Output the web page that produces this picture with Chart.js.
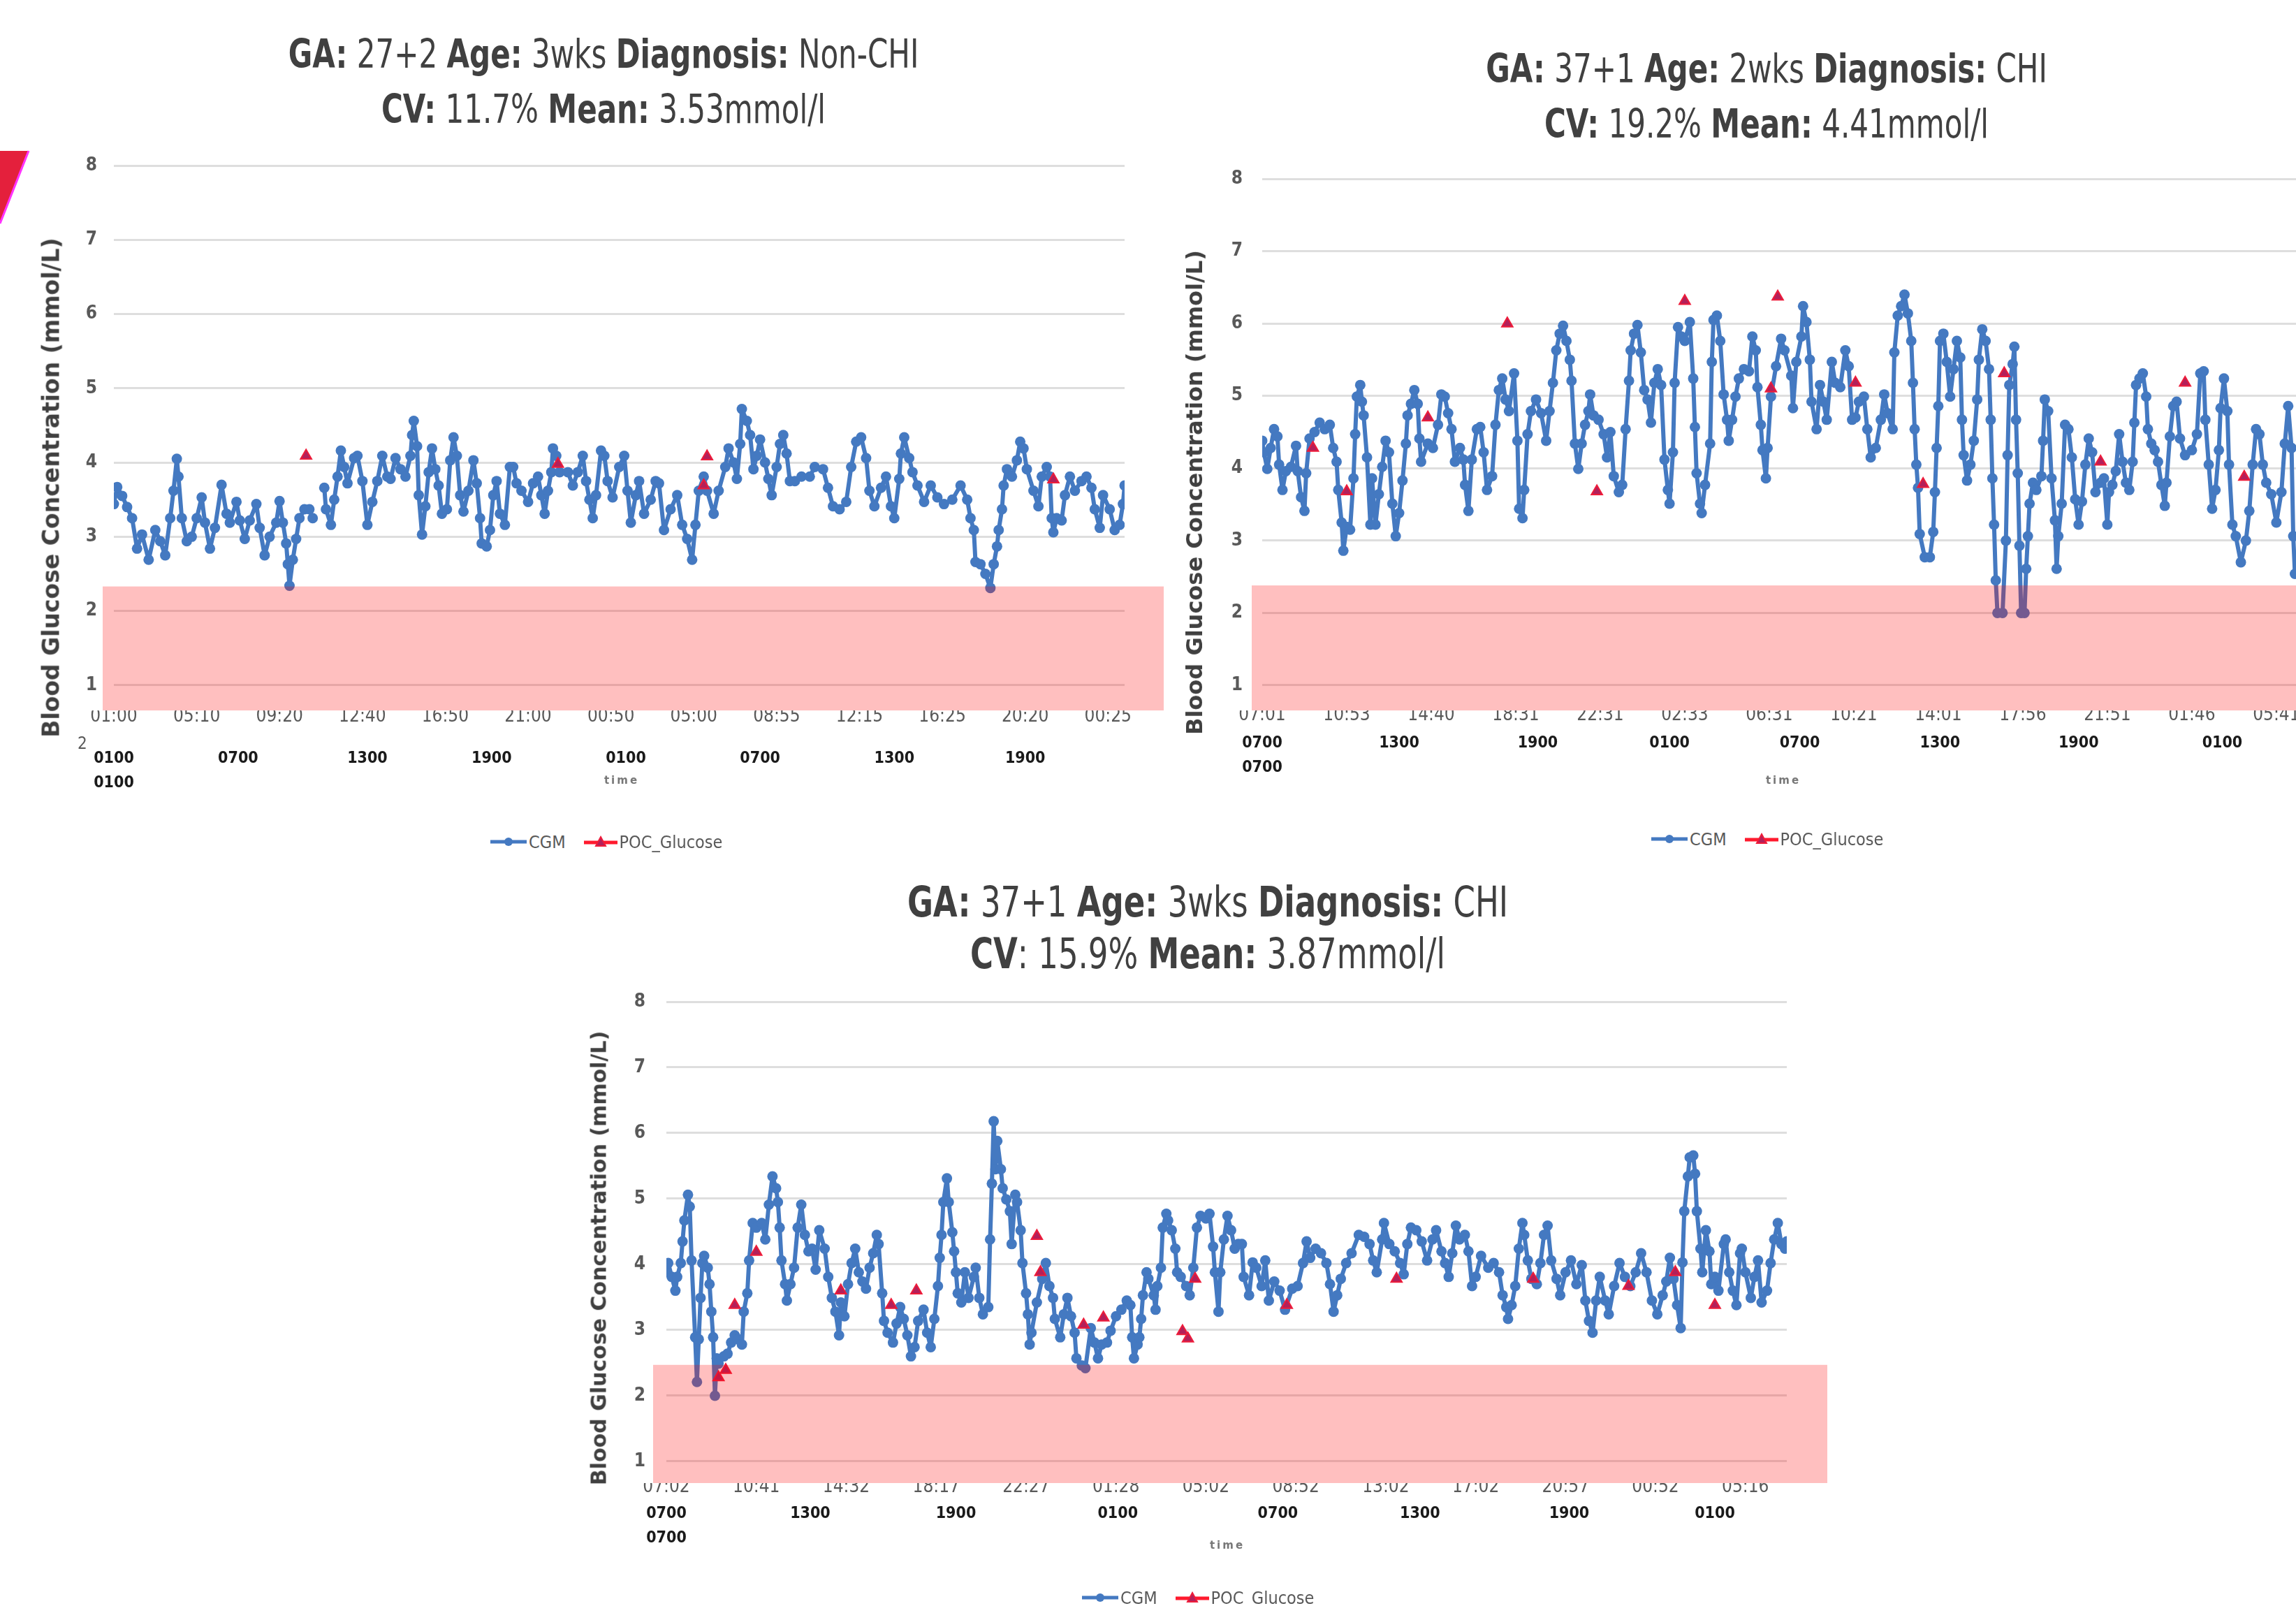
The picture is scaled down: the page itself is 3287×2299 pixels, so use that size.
<!DOCTYPE html>
<html>
<head>
<meta charset="utf-8">
<script src="https://cdn.jsdelivr.net/npm/chart.js@4.4.0/dist/chart.umd.min.js"></script>
<style>
html, body { margin: 0; padding: 0; background: #fff; }
body { position: relative; width: 3287px; height: 2299px; overflow: hidden; }
canvas { position: absolute; }
.t { position: absolute; width: 2000px; text-align: center; line-height: 1; color: #404040; white-space: nowrap;
     transform: scaleX(0.82);
     font-family: 'Liberation Sans Narrow', 'DejaVu Sans Condensed', 'Arial Narrow', sans-serif; }
.yt { position: absolute; transform: translate(-50%, -50%) rotate(-90deg); white-space: nowrap;
      font-family: 'DejaVu Sans', Verdana, sans-serif; font-weight: bold; color: #404040; }
.lg { position: absolute; height: 30px; display: flex; align-items: center; color: #595959;
      font: 25px 'Liberation Sans Narrow', 'DejaVu Sans Condensed', sans-serif; }
.lg span { margin-left: 3px; }
.lg svg.poc { margin-left: 26px; }
.tm { position: absolute; transform: translate(-50%, -50%); font: bold 15px 'DejaVu Sans', sans-serif;
      letter-spacing: 3px; color: #777; }
.frag { position: absolute; font: 24px 'Liberation Sans Narrow', 'DejaVu Sans Condensed', sans-serif; color: #595959; }
</style>
</head>
<body>

<svg style="position:absolute;left:0;top:210px" width="50" height="120">
  <polygon points="0,6 41,6 0,110" fill="#e4203c"/>
  <line x1="41" y1="6" x2="0" y2="110" stroke="#ff33ff" stroke-width="3"/>
</svg>

<!-- titles -->
<div class="t" style="left:-136px;top:49px;font-size:57px"><b>GA:</b> 27+2 <b>Age:</b> 3wks <b>Diagnosis:</b> Non-CHI</div>
<div class="t" style="left:-136px;top:128px;font-size:57px"><b>CV:</b> 11.7% <b>Mean:</b> 3.53mmol/l</div>
<div class="t" style="left:1529px;top:70px;font-size:57px"><b>GA:</b> 37+1 <b>Age:</b> 2wks <b>Diagnosis:</b> CHI</div>
<div class="t" style="left:1529px;top:149px;font-size:57px"><b>CV:</b> 19.2% <b>Mean:</b> 4.41mmol/l</div>
<div class="t" style="left:729px;top:1260px;font-size:61px"><b>GA:</b> 37+1 <b>Age:</b> 3wks <b>Diagnosis:</b> CHI</div>
<div class="t" style="left:729px;top:1334px;font-size:61px"><b>CV</b>: 15.9% <b>Mean:</b> 3.87mmol/l</div>

<canvas id="cL" width="1680" height="960" style="left:0;top:190px"></canvas>
<canvas id="cR" width="1680" height="960" style="left:1680px;top:190px"></canvas>
<canvas id="cB" width="1900" height="919" style="left:800px;top:1380px"></canvas>

<!-- y axis titles -->
<div class="yt" style="left:73px;top:698px;font-size:33px">Blood Glucose Concentration (mmol/L)</div>
<div class="yt" style="left:1710px;top:705px;font-size:32px">Blood Glucose Concentration (mmol/L)</div>
<div class="yt" style="left:857px;top:1801px;font-size:30px">Blood Glucose Concentration (mmol/L)</div>

<div class="frag" style="left:111px;top:1050px">2</div>
<div class="tm" style="left:890px;top:1117px">time</div>
<div class="tm" style="left:2553px;top:1117px">time</div>
<div class="tm" style="left:1757px;top:2212px">time</div>

<!-- legends -->
<div class="lg" style="left:702px;top:1190px">
  <svg width="52" height="20"><line x1="0" y1="10" x2="52" y2="10" stroke="#4479c1" stroke-width="5"/><circle cx="26" cy="10" r="6" fill="#4479c1"/></svg>
  <span>CGM</span>
  <svg class="poc" width="48" height="20"><line x1="0" y1="11" x2="48" y2="11" stroke="#ff1a2e" stroke-width="5"/><polygon points="24,3 31,16 17,16" fill="#b3205a" stroke="#ee1c3a" stroke-width="2"/></svg>
  <span>POC_Glucose</span>
</div>
<div class="lg" style="left:2364px;top:1186px">
  <svg width="52" height="20"><line x1="0" y1="10" x2="52" y2="10" stroke="#4479c1" stroke-width="5"/><circle cx="26" cy="10" r="6" fill="#4479c1"/></svg>
  <span>CGM</span>
  <svg class="poc" width="48" height="20"><line x1="0" y1="11" x2="48" y2="11" stroke="#ff1a2e" stroke-width="5"/><polygon points="24,3 31,16 17,16" fill="#b3205a" stroke="#ee1c3a" stroke-width="2"/></svg>
  <span>POC_Glucose</span>
</div>
<div class="lg" style="left:1549px;top:2272px">
  <svg width="52" height="20"><line x1="0" y1="10" x2="52" y2="10" stroke="#4479c1" stroke-width="5"/><circle cx="26" cy="10" r="6" fill="#4479c1"/></svg>
  <span>CGM</span>
  <svg class="poc" width="48" height="20"><line x1="0" y1="11" x2="48" y2="11" stroke="#ff1a2e" stroke-width="5"/><polygon points="24,3 31,16 17,16" fill="#b3205a" stroke="#ee1c3a" stroke-width="2"/></svg>
  <span>POC_Glucose</span>
</div>

<script>
// ---- data: [sample index, mmol/L] ----
const yTicks = [1, 2, 3, 4, 5, 6, 7, 8];
const LABEL_STEP = 50;

// top-left: GA 27+2, Non-CHI
const lTickLabels = ['01:00','05:10','09:20','12:40','16:50','21:00','00:50','05:00','08:55','12:15','16:25','20:20','00:25'];
const lHourIdx = [0, 75, 153, 228, 309, 390, 471, 550];
const lHourLabels = [['0100','0100'],'0700','1300','1900','0100','0700','1300','1900'];
const lBand = [0.66, 2.33];
const lCgm = [[0,3.44],[2,3.67],[5,3.55],[8,3.4],[11,3.25],[14,2.84],[17,3.03],[21,2.69],[25,3.09],[28,2.94],[31,2.75],[34,3.25],[36,3.62],[38,4.05],[39,3.81],[41,3.25],[44,2.94],[47,3.0],[50,3.25],[53,3.53],[55,3.19],[58,2.84],[61,3.12],[65,3.70],[68,3.31],[70,3.19],[74,3.47],[76,3.22],[79,2.97],[82,3.22],[86,3.44],[88,3.12],[91,2.75],[94,3.0],[98,3.19],[100,3.48],[102,3.19],[104,2.91],[105,2.63],[106,2.34],[108,2.69],[110,2.97],[112,3.25],[115,3.37],[118,3.37],[120,3.25],[123,null],
  [127,3.66],[128,3.37],[131,3.16],[133,3.5],[135,3.81],[137,4.16],[139,3.94],[141,3.72],[145,4.06],[147,4.09],[150,3.75],[153,3.16],[156,3.47],[159,3.75],[162,4.09],[165,3.81],[167,3.78],[170,4.06],[173,3.91],[176,3.81],[179,4.09],[180,4.37],[181,4.56],[183,4.22],[184,3.56],[186,3.03],[188,3.41],[190,3.87],[192,4.19],[194,3.91],[196,3.69],[198,3.31],[201,3.37],[203,4.03],[205,4.34],[207,4.09],[209,3.56],[211,3.34],[214,3.62],[217,4.03],[219,3.72],[221,3.25],[222,2.91],[225,2.87],[227,3.09],[229,3.56],[231,3.75],[233,3.31],[236,3.16],[239,3.94],[241,3.94],[243,3.72],[246,3.62],[250,3.47],[253,3.72],[256,3.81],[258,3.56],[260,3.31],[262,3.62],[264,3.87],[265,4.19],[267,4.09],[269,3.87],[274,3.87],[277,3.69],[280,3.87],[283,4.09],[285,3.75],[287,3.5],[289,3.25],[291,3.56],[294,4.16],[296,4.09],[298,3.75],[301,3.53],
  [305,3.94],[308,4.09],[310,3.62],[312,3.19],[315,3.56],[317,3.75],[320,3.31],[324,3.5],[327,3.75],[329,3.72],[332,3.09],[336,3.37],[340,3.56],[343,3.16],[346,2.97],[349,2.69],[351,3.16],[353,3.62],[356,3.81],[358,3.62],[362,3.31],[365,3.62],[369,3.94],[371,4.19],[374,4.0],[376,3.78],[378,4.25],[379,4.72],[382,4.56],[384,4.37],[386,3.91],[388,4.09],[390,4.31],[393,4.0],[395,3.78],[397,3.56],[400,3.94],[402,4.25],[404,4.37],[406,4.12],[408,3.75],[411,3.75],[415,3.81],[420,3.81],[423,3.94],[428,3.91],[431,3.66],[434,3.41],[438,3.37],[442,3.47],[445,3.94],[448,4.28],[451,4.34],[454,4.06],[456,3.62],[459,3.41],[463,3.66],[466,3.81],[469,3.41],[471,3.25],[474,3.78],[475,4.12],[477,4.34],[480,4.06],[482,3.87],[485,3.69],[489,3.47],[493,3.69],[497,3.53],[501,3.44],[506,3.5],[511,3.69],[515,3.5],[517,3.25],[519,3.09],[520,2.66],[523,2.63],[526,2.5],[529,2.31],[531,2.63],[533,2.87],[534,3.09],[536,3.37],[537,3.69],[539,3.91],[542,3.81],[545,4.03],[547,4.28],[549,4.19],[551,3.91],[555,3.62],[558,3.41],[560,3.81],[563,3.94],[565,3.81],[566,3.25],[567,3.06],[569,3.25],[572,3.22],[574,3.56],[577,3.81],[580,3.62],[584,3.75],[587,3.81],[590,3.66],[592,3.37],[595,3.12],[597,3.56],[601,3.37],[604,3.09],[607,3.16],[609,3.44],[610,3.69]];
const lPoc = [[116,4.09],[268,3.98],[356,3.69],[358,4.08],[567,3.77]];

// top-right: GA 37+1, 2wks, CHI
const rTickLabels = ['07:01','10:53','14:40','18:31','22:31','02:33','06:31','10:21','14:01','17:56','21:51','01:46','05:41'];
const rHourIdx = [0, 81, 163, 241, 318, 401, 483, 568];
const rHourLabels = [['0700','0700'],'1300','1900','0100','0700','1300','1900','0100'];
const rBand = [0.652, 2.38];
const rCgm = [[0,4.38],[1,4.22],[3,3.99],[5,4.28],[7,4.54],[9,4.44],[10,4.05],[12,3.70],[14,3.96],[17,4.02],[20,4.31],[21,3.96],[23,3.60],[25,3.41],[26,3.93],[28,4.41],[31,4.50],[34,4.63],[37,4.54],[40,4.60],[42,4.28],[44,4.09],[45,3.70],[47,3.25],[48,2.86],[50,3.19],[52,3.15],[54,3.86],[55,4.47],[56,4.99],[58,5.15],[59,4.92],[60,4.73],[62,4.15],[64,3.22],[65,3.86],[67,3.22],[69,3.64],[71,4.02],[73,4.38],[75,4.22],[77,3.51],[79,3.06],[81,3.38],[83,3.83],[85,4.34],[86,4.73],[88,4.89],[90,5.08],[92,4.89],[93,4.41],[94,4.09],[98,4.34],[101,4.28],[104,4.60],[106,5.02],[108,4.99],[110,4.76],[112,4.54],[114,4.09],[117,4.28],[119,4.12],[120,3.77],[122,3.41],[124,4.12],[127,4.54],[129,4.57],[131,4.22],[133,3.70],[136,3.89],[138,4.60],[140,5.08],[142,5.24],[144,4.95],[146,4.79],[149,5.31],[151,4.38],[152,3.44],[154,3.31],[155,3.70],[157,4.47],[159,4.79],[162,4.95],[165,4.76],[168,4.38],[170,4.79],[172,5.18],[174,5.63],[176,5.86],[178,5.97],[180,5.76],[182,5.50],[183,5.21],[185,4.34],[187,3.99],[189,4.34],[191,4.60],[193,4.79],[194,5.02],[196,4.73],[199,4.67],[202,4.47],[204,4.15],[206,4.50],[208,3.89],[211,3.67],[213,3.77],[215,4.54],[217,5.21],[218,5.63],[220,5.86],[222,5.98],[224,5.60],[226,5.08],[228,4.95],[230,4.63],[232,5.18],[234,5.37],[236,5.15],[238,4.12],[240,3.70],[241,3.51],[243,4.22],[244,5.18],[246,5.95],[248,5.82],[250,5.76],[253,6.02],[255,5.24],[256,4.57],[257,3.93],[259,3.51],[260,3.38],[262,3.77],[265,4.34],[266,5.47],[267,6.05],[269,6.11],[271,5.76],[273,5.02],[275,4.67],[276,4.38],[278,4.67],[280,4.99],[282,5.24],[285,5.37],[288,5.34],[290,5.82],[292,5.63],[293,5.12],[295,4.60],[296,4.25],[298,3.86],[299,4.28],[301,4.99],[304,5.41],[307,5.79],[309,5.63],
  [313,5.28],[314,4.83],[316,5.47],[319,5.82],[320,6.24],[322,6.02],[324,5.50],[325,4.92],[328,4.54],[330,5.15],[332,4.92],[334,4.67],[337,5.47],[339,5.18],[342,5.12],[345,5.63],[347,5.41],[349,4.67],[351,4.70],[353,4.92],[356,4.99],[358,4.54],[360,4.15],[363,4.28],[366,4.67],[368,5.02],[370,4.76],[373,4.54],[374,5.60],[376,6.11],[378,6.24],[380,6.40],[382,6.14],[384,5.76],[385,5.18],[386,4.54],[387,4.05],[388,3.73],[389,3.09],[392,2.77],[395,2.77],[397,3.12],[398,3.67],[399,4.28],[400,4.86],[401,5.76],[403,5.86],[405,5.47],[407,4.99],[409,5.37],[411,5.76],[413,5.53],[414,4.67],[415,4.18],[417,3.83],[419,4.05],[421,4.38],[423,4.95],[424,5.50],[426,5.92],[428,5.76],[430,5.37],[431,4.67],[432,3.86],[433,3.22],[434,2.45],[435,2.00],[438,2.00],[440,3.0],[441,4.18],[442,5.15],[444,5.44],[445,5.68],[446,4.67],[447,3.93],[448,2.93],[449,2.00],[451,2.00],[452,2.61],[453,3.06],[454,3.51],[456,3.80],[458,3.70],[461,3.89],[462,4.38],[463,4.95],[465,4.79],[467,3.86],[469,3.28],[470,2.61],[471,3.06],[473,3.51],[475,4.60],[477,4.54],[479,4.15],[481,3.57],[483,3.22],[485,3.54],[487,4.05],[489,4.41],[491,4.22],[493,3.67],[496,3.80],[498,3.86],[500,3.22],[501,3.67],[503,3.77],[505,3.96],[507,4.47],[509,4.09],[511,3.80],[513,3.70],[515,4.09],[516,4.63],[517,5.15],[519,5.24],[521,5.31],[523,4.99],[524,4.54],[526,4.34],[528,4.25],[530,4.09],[532,3.77],[534,3.48],[535,3.80],[537,4.44],[539,4.86],[541,4.92],[543,4.41],[546,4.18],[550,4.25],[553,4.47],[555,5.31],[557,5.34],[558,4.67],[560,4.05],[562,3.44],[564,3.70],[566,4.25],[567,4.83],[569,5.24],[571,4.79],[572,4.05],[574,3.22],[576,3.06],[579,2.70],[582,3.0],[584,3.41],[586,4.05],[588,4.54],[590,4.47],[592,4.05],[594,3.80],[597,3.64],[600,3.25],[603,3.67],[605,4.34],[607,4.86],[609,4.28],[610,3.06],[611,2.54]];
const rPoc = [[30,4.28],[50,3.68],[98,4.70],[145,6.0],[198,3.68],[250,6.31],[301,5.10],[305,6.37],[351,5.18],[391,3.78],[439,5.31],[496,4.09],[546,5.18],[581,3.88]];

// bottom: GA 37+1, 3wks, CHI
const bTickLabels = ['07:02','10:41','14:32','18:17','22:27','01:28','05:02','08:52','13:02','17:02','20:57','00:52','05:16'];
const bHourIdx = [0, 80, 161, 251, 340, 419, 502, 583];
const bHourLabels = [['0700','0700'],'1300','1900','0100','0700','1300','1900','0100'];
const bBand = [0.67, 2.47];
const bCgm = [[0,3.88],[1,4.02],[3,3.81],[5,3.60],[6,3.81],[8,4.02],[9,4.35],[10,4.67],[12,5.06],[13,4.88],[14,4.06],[16,2.89],[17,2.21],[18,2.86],[19,3.49],[20,4.02],[21,4.13],[23,3.95],[24,3.70],[25,3.28],[26,2.89],[27,2.0],[28,2.57],[29,2.49],[32,2.60],[34,2.64],[36,2.81],[38,2.92],[40,2.86],[42,2.78],[43,3.28],[45,3.56],[46,4.06],[48,4.63],[50,4.56],[53,4.63],[55,4.38],[57,4.91],[59,5.34],[61,5.16],[62,4.95],[63,4.56],[64,4.06],[66,3.70],[67,3.45],[69,3.70],[71,3.95],[73,4.56],[75,4.91],[77,4.45],[79,4.20],[81,4.24],[83,3.92],[85,4.52],[88,4.24],[90,3.81],[92,3.49],[94,3.28],[96,2.92],[97,3.42],[99,3.21],[101,3.70],[103,4.02],[105,4.24],[107,3.88],[109,3.74],[111,3.63],[113,3.95],[115,4.17],[117,4.45],[118,4.31],[120,3.56],[121,3.14],[123,2.96],[126,2.81],[128,3.10],[130,3.35],[132,3.17],[134,2.92],[136,2.60],[138,2.74],[140,3.14],[143,3.31],[145,2.96],[147,2.74],[149,3.17],[151,3.67],[152,4.10],[153,4.45],[154,4.95],[156,5.31],[157,4.95],[159,4.49],[160,4.20],[161,3.88],[162,3.56],[164,3.42],[166,3.88],[168,3.49],[171,3.81],[172,3.95],[174,3.49],[176,3.24],[179,3.35],[180,4.38],[181,5.23],[182,6.18],[183,5.45],[184,5.88],[186,5.45],[187,5.16],[189,4.99],[191,4.81],[192,4.31],[194,5.06],[195,4.95],[197,4.52],[198,4.02],[200,3.56],[201,3.24],[202,2.78],[203,2.96],[206,3.42],[209,3.78],[211,4.02],[213,3.67],[215,3.49],[216,3.17],[219,2.89],[221,3.24],[223,3.49],[225,3.21],[227,2.96],[228,2.57],[231,2.46],[233,2.42],[236,3.03],[238,2.81],[240,2.57],[242,2.78],[245,2.81],[247,2.99],[250,3.21],[253,3.31],[256,3.45],[258,3.38],[259,2.89],[260,2.57],[262,2.78],[263,2.89],[264,3.17],[265,3.53],[267,3.88],[268,3.78],[271,3.53],[272,3.31],[273,3.67],[275,3.95],[276,4.56],[278,4.77],[279,4.67],[281,4.52],[283,4.24],[284,3.88],[286,3.81],[289,3.67],[291,3.53],[293,3.95],[295,4.56],[297,4.74],[300,4.70],[302,4.77],[304,4.27],[305,3.88],[307,3.28],[308,3.88],[310,4.38],[312,4.74],
  [314,4.52],[316,4.24],[318,4.31],[320,4.31],[321,3.81],[324,3.53],[326,4.03],[328,3.95],[331,3.67],[333,4.06],[335,3.45],[338,3.74],[341,3.60],[344,3.31],[348,3.63],[351,3.67],[354,4.02],[356,4.35],[358,4.10],[361,4.24],[364,4.17],[367,4.02],[369,3.70],[371,3.28],[373,3.53],[375,3.78],[378,4.02],[381,4.17],[385,4.45],[388,4.42],[391,4.31],[393,4.06],[395,3.88],[398,4.38],[399,4.63],[402,4.31],[405,4.20],[408,4.02],[410,3.85],[412,4.31],[414,4.56],[417,4.52],[420,4.35],[423,4.06],[426,4.38],[428,4.52],[431,4.20],[433,4.02],[435,3.81],[437,4.17],[439,4.59],[441,4.38],[444,4.45],[446,4.20],[448,3.67],[450,3.81],[453,4.13],[457,3.95],[460,4.02],[463,3.88],[465,3.53],[467,3.35],[468,3.17],[470,3.38],[472,3.67],[474,4.24],[476,4.63],[477,4.45],[479,4.06],[481,3.78],[484,3.70],[486,4.02],[488,4.45],[490,4.59],[492,4.06],[495,3.78],[497,3.53],[500,3.88],[503,4.06],[506,3.70],[509,3.99],[511,3.45],[513,3.14],[515,2.96],[517,3.45],[519,3.81],[522,3.45],[524,3.24],[527,3.67],[530,4.02],[533,3.81],[536,3.67],[539,3.88],[542,4.17],[545,3.88],[548,3.45],[551,3.24],[554,3.53],[556,3.74],[558,4.10],[560,3.78],[562,3.38],[564,3.03],[565,4.03],[566,4.81],[568,5.34],[569,5.63],[571,5.66],[572,5.38],[573,4.81],[575,4.24],[576,3.88],[578,4.52],[580,4.20],[581,3.70],[583,3.81],[585,3.60],[588,4.31],[589,4.38],[591,3.88],[593,3.60],[595,3.38],[597,4.17],[598,4.24],[600,3.88],[603,3.49],[605,3.81],[607,4.06],[609,3.42],[612,3.60],[614,4.02],[616,4.38],[618,4.63],[620,4.31],[622,4.24],[623,4.35]];
const bPoc = [[29,2.28],[33,2.39],[38,3.38],[50,4.19],[97,3.60],[125,3.38],[139,3.60],[206,4.43],[208,3.88],[232,3.08],[243,3.19],[287,2.98],[290,2.87],[294,3.78],[345,3.38],[406,3.78],[482,3.78],[535,3.67],[561,3.88],[583,3.38]];

// ---- drawing ----
const NARROW = "'Liberation Sans Narrow', 'DejaVu Sans Condensed', 'Arial Narrow', sans-serif";
const BLUE = '#4479c1';

// semi-transparent pink "hypo" band, painted over the data like the original
const lowBand = {
  id: 'lowBand',
  afterDatasetsDraw(chart, args, o) {
    const { ctx, chartArea: a, scales: { y } } = chart;
    const top = y.getPixelForValue(o.range[1]);
    const bottom = y.getPixelForValue(o.range[0]);
    ctx.save();
    ctx.fillStyle = o.color;
    ctx.fillRect(a.left - o.padLeft, top, a.right - a.left + o.padLeft + o.padRight, bottom - top);
    ctx.restore();
  }
};

function makeChart(id, p) {
  new Chart(document.getElementById(id), {
    type: 'line',
    data: {
      datasets: [
        { label: 'CGM', data: p.cgm, xAxisID: 'x', borderColor: BLUE, backgroundColor: BLUE,
          borderWidth: 6, borderJoinStyle: 'round', borderCapStyle: 'round',
          pointRadius: 7.5, pointBorderWidth: 0, tension: 0, spanGaps: false, order: 1 },
        { label: 'POC_Glucose', data: p.poc, xAxisID: 'x', showLine: false, pointStyle: 'triangle',
          pointRadius: 9, backgroundColor: '#b3205a', borderColor: '#ee1c3a', borderWidth: 2, order: 0 }
      ]
    },
    options: {
      responsive: false,
      animation: false,
      events: [],
      layout: { autoPadding: false, padding: p.pad },
      plugins: {
        legend: { display: false },
        tooltip: { enabled: false },
        lowBand: { range: p.band, color: 'rgba(255, 0, 0, 0.25)', padLeft: p.bandPad[0], padRight: p.bandPad[1] }
      },
      scales: {
        x: {
          type: 'linear', position: 'bottom', weight: 0, min: 0, max: p.xMax,
          grid: { display: false, drawTicks: false }, border: { display: false },
          afterBuildTicks: s => { s.ticks = p.tickLabels.map((t, i) => ({ value: i * LABEL_STEP })); },
          afterFit: s => { s.height = p.hx; s.paddingLeft = 0; s.paddingRight = 0; },
          ticks: { autoSkip: false, maxRotation: 0, padding: p.xPad, color: '#595959',
                   font: { family: NARROW, size: 26, lineHeight: 1 },
                   callback: (v, i) => p.tickLabels[i] }
        },
        x2: {
          type: 'linear', position: 'bottom', weight: 1, min: 0, max: p.xMax,
          grid: { display: false, drawTicks: false }, border: { display: false },
          afterBuildTicks: s => { s.ticks = p.hourIdx.map(v => ({ value: v })); },
          afterFit: s => { s.height = 60; s.paddingLeft = 0; s.paddingRight = 0; },
          ticks: { autoSkip: false, maxRotation: 0, padding: 0, color: '#1a1a1a',
                   font: { family: NARROW, size: 23, weight: 'bold', lineHeight: 1.5 },
                   callback: (v, i) => p.hourLabels[i] }
        },
        y: {
          type: 'linear', min: p.band[0], max: 8,
          afterBuildTicks: s => { s.ticks = yTicks.map(v => ({ value: v })); },
          afterFit: s => { s.width = p.wy; s.paddingTop = 0; s.paddingBottom = 0; },
          grid: { color: '#dedede', lineWidth: 3, drawTicks: false }, border: { display: false },
          ticks: { padding: p.yPad, color: '#595959', font: { family: NARROW, size: 26, weight: 'bold' } }
        }
      }
    },
    plugins: [lowBand]
  });
}

makeChart('cL', { cgm: lCgm, poc: lPoc, tickLabels: lTickLabels, hourIdx: lHourIdx, hourLabels: lHourLabels,
  band: lBand, bandPad: [16, 56], xMax: 610, pad: { left: 0, top: 47, right: 70, bottom: 21 },
  wy: 163, hx: 52, xPad: -4, yPad: 24 });
makeChart('cR', { cgm: rCgm, poc: rPoc, tickLabels: rTickLabels, hourIdx: rHourIdx, hourLabels: rHourLabels,
  band: rBand, bandPad: [15, 0], xMax: 617, pad: { left: 0, top: 66, right: 60, bottom: 43 },
  wy: 127, hx: 30, xPad: -6, yPad: 28 });
makeChart('cB', { cgm: bCgm, poc: bPoc, tickLabels: bTickLabels, hourIdx: bHourIdx, hourLabels: bHourLabels,
  band: bBand, bandPad: [19, 58], xMax: 623, pad: { left: 0, top: 54, right: 142, bottom: 89 },
  wy: 154, hx: 27, xPad: -7, yPad: 30 });
</script>
</body>
</html>
